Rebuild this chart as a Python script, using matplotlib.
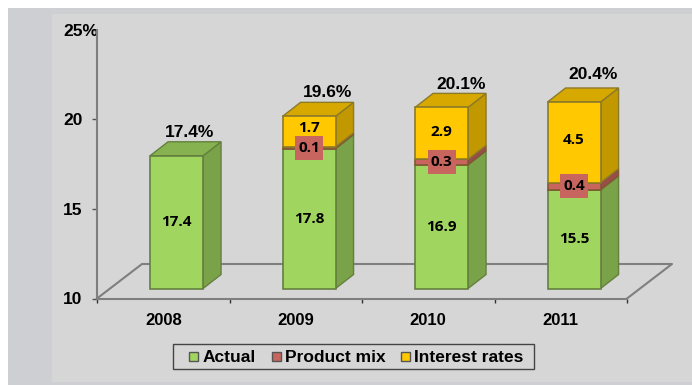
import matplotlib
matplotlib.use('Agg')
import matplotlib.pyplot as plt
from matplotlib.patches import Polygon, Rectangle
import numpy as np

W, H = 692, 385

years = ['2008', '2009', '2010', '2011']
actual = [17.4, 17.8, 16.9, 15.5]
product_mix = [0.0, 0.1, 0.3, 0.4]
interest_rates = [0.0, 1.7, 2.9, 4.5]
totals = ['17.4%', '19.6%', '20.1%', '20.4%']
y_ticks = [10, 15, 20, 25]
y_tick_labels = ['10', '15', '20', '25%']

# label nudges in px
total_dx = [13.5, 19, 19.5, 19]
total_dy = [9, 10, 9, 13]
rate_dy = [0, 4, 1, 2]

LEFT, RIGHT, TOP, BOTTOM = 97, 627, 29.5, 298.5
PX_X = (RIGHT - LEFT) / 4
PX_Y = (BOTTOM - TOP) / 15


def shade(color, f):
    return tuple(c * f for c in matplotlib.colors.to_rgb(color))


def box(ax, x0, x1, y0, y1, dx, dy, color, edge, last=False):
    # front face, side face, and the lid if it is the top of the stack
    ax.add_patch(Rectangle((x0, y0), x1 - x0, y1 - y0, fc=color, ec=edge, lw=1.2, zorder=3))
    ax.add_patch(Polygon([(x1, y0), (x1 + dx, y0 + dy), (x1 + dx, y1 + dy), (x1, y1)],
                         fc=shade(color, 0.76), ec=edge, lw=1.0, zorder=2.9))
    if last:
        ax.add_patch(Polygon([(x0, y1), (x0 + dx, y1 + dy), (x1 + dx, y1 + dy), (x1, y1)],
                             fc=shade(color, 0.84), ec=edge, lw=1.0, zorder=2.9))


fig = plt.figure(figsize=(W / 100, H / 100), dpi=100, facecolor='white')
fig.add_artist(Rectangle((8 / W, 0), 1 - 8 / W, 1 - 8 / H, transform=fig.transFigure,
                         fc='#cdcfd2', ec='none', zorder=-2))
fig.add_artist(Rectangle((52 / W, 3 / H), 1 - 52 / W, (H - 17) / H, transform=fig.transFigure,
                         fc='#d6d6d6', ec='none', zorder=-1))

ax = fig.add_axes([LEFT / W, 1 - BOTTOM / H, (RIGHT - LEFT) / W, (BOTTOM - TOP) / H])
ax.patch.set_alpha(0)
ax.set_xlim(-0.5, 3.5)
ax.set_ylim(10, 25)

# floor
depth_x = 45 / PX_X
depth_y = 34.5 / PX_Y
ax.plot([-0.5, -0.5 + depth_x, 3.5 + depth_x, 3.5], [10, 10 + depth_y, 10 + depth_y, 10],
        color='#7f7f7f', lw=1.5, clip_on=False, zorder=1)

ax.spines['top'].set_visible(False)
ax.spines['right'].set_visible(False)
ax.spines['left'].set_color('#7f7f7f')
ax.spines['bottom'].set_color('#7f7f7f')
ax.spines['left'].set_linewidth(1.5)
ax.spines['bottom'].set_linewidth(1.5)

ax.set_yticks(y_ticks)
ax.set_yticklabels(y_tick_labels, family='Liberation Sans', fontweight='bold', fontsize=12.5, ha='left')
ax.tick_params(axis='y', length=3.6, width=1, color='#555555', pad=20.9)
ax.set_xticks(np.arange(-0.5, 4))
ax.set_xticklabels([])
ax.tick_params(axis='x', length=3, width=1, color='#333333', direction='out')
for x, year in zip(range(4), years):
    ax.annotate(year, (x, 10), xytext=(0, -22), textcoords='offset pixels', ha='center', va='center',
                family='Liberation Sans', fontweight='bold', fontsize=12, annotation_clip=False)

# bars stand 10 px up the floor
lift = 10 / PX_Y
shift = 13.3 / PX_X
half = 26.5 / PX_X
dx = 18 / PX_X
dy = 14 / PX_Y
GREEN, RED, YELLOW = '#a0d55f', '#c8655f', '#ffc800'
GREEN_E, RED_E, YELLOW_E = '#64803f', '#7f5a30', '#8c7a2a'

for i in range(4):
    x0 = i + shift - half
    x1 = i + shift + half
    a = actual[i] + lift
    m = a + product_mix[i]
    t = m + interest_rates[i]
    box(ax, x0, x1, 10 + lift, a, dx, dy, GREEN, GREEN_E, last=(interest_rates[i] == 0))
    if interest_rates[i] > 0:
        box(ax, x0, x1, a, m, dx, dy, RED, RED_E)
        box(ax, x0, x1, m, t, dx, dy, YELLOW, YELLOW_E, last=True)

    xc = (x0 + x1) / 2
    lab = dict(ha='center', va='center', family='Open Sans', fontweight='bold', fontsize=11,
               color='black', zorder=6)
    ax.text(xc, (10 + lift + a) / 2, f'{actual[i]}', **lab)
    if interest_rates[i] > 0:
        ax.text(xc, (m + t) / 2 + rate_dy[i] / PX_Y, f'{interest_rates[i]}', **lab)
        # fixed size label box, wider than the thin segment behind it
        ax.add_patch(Rectangle((xc - 14 / PX_X, (a + m) / 2 - 12 / PX_Y), 28 / PX_X, 24 / PX_Y,
                               fc=RED, ec='none', zorder=5))
        ax.text(xc, (a + m) / 2, f'{product_mix[i]}', **lab)
    ax.text(xc + total_dx[i] / PX_X, t + dy + total_dy[i] / PX_Y, totals[i], ha='center', va='center',
            family='Liberation Sans', fontweight='bold', fontsize=12.5, zorder=6)

# legend
fig.add_artist(Rectangle((172.7 / W, 1 - 368.5 / H), 361 / W, 24.5 / H, transform=fig.transFigure,
                         fc='#d6d6d6', ec='#444444', lw=1))
for x_s, x_t, c, e, name in [(189, 203, GREEN, GREEN_E, 'Actual'), (272, 285, RED, RED_E, 'Product mix'),
                             (401, 414, YELLOW, YELLOW_E, 'Interest rates')]:
    fig.add_artist(Rectangle((x_s / W, 1 - 361 / H), 9 / W, 9 / H, transform=fig.transFigure,
                             fc=c, ec='#555555', lw=1))
    fig.text(x_t / W, 1 - 358 / H, name, ha='left', va='center', family='Liberation Sans',
             fontweight='bold', fontsize=12.5)

fig.savefig('out.png', dpi=100)
